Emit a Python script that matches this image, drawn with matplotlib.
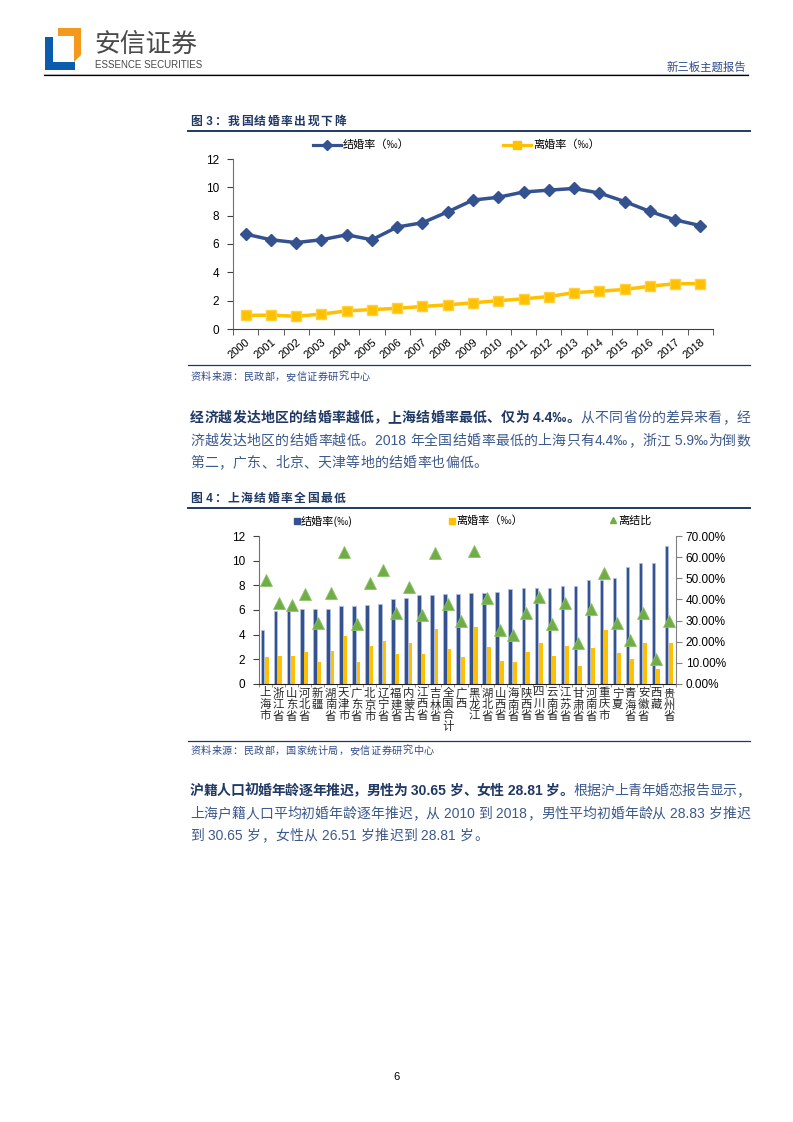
import matplotlib
matplotlib.use('Agg')
import matplotlib.pyplot as plt
import numpy as np
from matplotlib.patches import Polygon
from matplotlib.ticker import FuncFormatter

plt.rcParams['font.family'] = ['Noto Sans CJK SC', 'DejaVu Sans']

# %% data: figure 3
years = [str(y) for y in range(2000, 2019)]
marriage_rate = [6.7, 6.3, 6.1, 6.3, 6.65, 6.3, 7.2, 7.5, 8.27, 9.1,
                 9.3, 9.67, 9.8, 9.92, 9.6, 9.0, 8.3, 7.7, 7.3]
divorce_rate = [0.96, 0.98, 0.90, 1.05, 1.28, 1.37, 1.46, 1.59, 1.71, 1.85,
                2.0, 2.13, 2.29, 2.57, 2.67, 2.79, 3.02, 3.2, 3.2]

# %% data: figure 4
provinces = ['上海市', '浙江省', '山东省', '河北省', '新疆', '湖南省', '天津市', '广东省',
             '北京市', '辽宁省', '福建省', '内蒙古', '江西省', '吉林省', '全国合计', '广西',
             '黑龙江', '湖北省', '山西省', '海南省', '陕西省', '四川省', '云南省', '江苏省',
             '甘肃省', '河南省', '重庆市', '宁夏', '青海省', '安徽省', '西藏', '贵州省']
prov_marriage = [4.4, 5.9, 6.0, 6.1, 6.1, 6.1, 6.3, 6.3, 6.4, 6.5, 6.9, 7.0, 7.2, 7.2,
                 7.3, 7.3, 7.4, 7.4, 7.5, 7.7, 7.8, 7.8, 7.8, 7.95, 7.95, 8.4, 8.4,
                 8.6, 9.5, 9.8, 9.85, 11.2]
prov_divorce = [2.2, 2.3, 2.3, 2.6, 1.8, 2.7, 3.9, 1.8, 3.1, 3.5, 2.4, 3.3, 2.4, 4.5,
                2.8, 2.2, 4.6, 3.0, 1.9, 1.8, 2.6, 3.3, 2.3, 3.1, 1.5, 2.9, 4.4,
                2.5, 2.0, 3.3, 1.2, 3.3]
prov_ratio = [49, 38.5, 37.5, 42.5, 29, 43, 62.5, 28.5, 48, 54, 33.5, 46, 32.5, 62,
              38, 30, 63, 40.5, 25.5, 23, 33.5, 41, 28.5, 38.5, 19.5, 35.5, 52.5,
              29, 21, 33.5, 12, 30]

W, H = 793, 1122
NAVY = '#1f3864'
BODY = '#3d5a8c'
BLUE = '#34528f'
GOLD = '#ffc000'
GREEN = '#70ad47'
LATIN = ['Liberation Sans', 'Noto Sans CJK SC']
CJK = ['Noto Sans CJK SC', 'DejaVu Sans']

fig = plt.figure(figsize=(W / 100, H / 100), dpi=100)
page = fig.add_axes([0, 0, 1, 1], zorder=0)
page.set_xlim(0, W)
page.set_ylim(H, 0)
page.axis('off')
renderer = fig.canvas.get_renderer()


def split_tokens(s):
    out, buf = [], ''
    for ch in s:
        if ord(ch) < 0x2000 or ch == '‰':
            buf += ch
        else:
            if buf:
                out.append(buf)
                buf = ''
            out.append(ch)
    if buf:
        out.append(buf)
    return out


def put_line(x0, y, parts, x1=None, gap=0.0):
    # place text token by token so that a line can be justified
    items = []
    for s, kw in parts:
        for tok in split_tokens(s):
            fam = LATIN if ord(tok[0]) < 0x2000 else CJK
            t = page.text(x0, y, tok, va='baseline', ha='left', family=fam, **kw)
            items.append((t, t.get_window_extent(renderer).width))
    total = sum(w for _, w in items)
    if x1 is not None and len(items) > 1:
        gap = (x1 - x0 - total) / (len(items) - 1)
    x = x0
    for t, w in items:
        t.set_x(x)
        x += w + gap


# %% header
page.add_patch(Polygon([(45, 37), (53, 37), (53, 62), (75, 62), (75, 70), (45, 70)],
                       closed=True, color='#0b5cad', lw=0))
page.add_patch(Polygon([(58, 28), (81, 28), (81, 55), (74, 62), (74, 36), (58, 36)],
                       closed=True, color='#f39a1e', lw=0))
page.text(94, 45, '安信证券', fontsize=18.5, color='#4a4a4a', va='center', ha='left', family=CJK)
page.text(95, 65, 'ESSENCE SECURITIES', fontsize=7, color='#4a4a4a', va='center', ha='left',
          family=LATIN)
page.text(746, 67, '新三板主题报告', fontsize=8.2, color='#2f4a8a', va='center', ha='right', family=CJK)
page.plot([44, 748], [73.5, 73.5], color='#c8c8c8', lw=0.8)
page.plot([44, 748], [75, 75], color='black', lw=0.9)

# %% figure 3 frame
bold_title = dict(fontsize=8.5, color=NAVY, weight='bold')
put_line(190, 125, [('图 3：我国结婚率出现下降', bold_title)], gap=1.5)
page.plot([188, 750], [131, 131], color=NAVY, lw=1.4)
page.plot([188, 750], [365, 365], color=NAVY, lw=0.9)
put_line(190, 380, [('资料来源：民政部，安信证券研究中心',
                     dict(fontsize=7.3, color='#2f4a8a', style='italic'))], gap=0.5)

# legend of figure 3
page.plot([313, 341], [145, 145], color=BLUE, lw=2.3)
page.plot([327], [145], marker='D', color=BLUE, ms=5)
page.text(343, 145, '结婚率（‰）', fontsize=8, va='center', ha='left', family=CJK)
page.plot([503, 531], [145, 145], color=GOLD, lw=2.3)
page.plot([517], [145], marker='s', color=GOLD, ms=5.5)
page.text(533, 145, '离婚率（‰）', fontsize=8, va='center', ha='left', family=CJK)

ax1 = fig.add_axes([233 / W, 1 - 329 / H, 480 / W, 170 / H], zorder=2)
x1 = np.arange(len(years))
ax1.plot(x1, marriage_rate, color=BLUE, lw=2.5, marker='D', ms=6, zorder=3)
ax1.plot(x1, divorce_rate, color=GOLD, lw=2.5, marker='s', ms=7, mec='#ffd040', zorder=3)
ax1.set_xlim(-0.5, len(years) - 0.5)
ax1.set_ylim(0, 12)
ax1.set_yticks(range(0, 13, 2))
ax1.set_xticks(x1)
ax1.set_xticklabels(years, rotation=40, ha='right', rotation_mode='anchor', family=LATIN, fontsize=8)
ax1.set_xticks(np.arange(-0.5, len(years), 1), minor=True)
ax1.tick_params(axis='x', which='major', length=0, pad=6)
ax1.tick_params(axis='x', which='minor', length=4, direction='out', color='#404040')
ax1.tick_params(axis='y', length=4, direction='out', color='#404040', labelsize=8.5, pad=6)
for lab in ax1.get_yticklabels():
    lab.set_family(LATIN)
for s in ['top', 'right']:
    ax1.spines[s].set_visible(False)
ax1.spines['left'].set_color('#707070')
ax1.spines['bottom'].set_color('#404040')
ax1.patch.set_alpha(0)

# %% paragraph 1
bold_p = dict(fontsize=10, color=NAVY, weight='bold')
body_p = dict(fontsize=10, color=BODY)
put_line(190, 422, [('经济越发达地区的结婚率越低，上海结婚率最低、仅为 4.4‰。', bold_p),
                    ('从不同省份的差异来看，经', body_p)], x1=750)
put_line(190, 445, [('济越发达地区的结婚率越低。2018 年全国结婚率最低的上海只有4.4‰，浙江 5.9‰为倒数',
                     body_p)], x1=750)
put_line(190, 467, [('第二，广东、北京、天津等地的结婚率也偏低。', body_p)], gap=0.3)

# %% figure 4 frame
put_line(190, 502, [('图 4：上海结婚率全国最低', bold_title)], gap=1.5)
page.plot([188, 750], [508, 508], color=NAVY, lw=1.4)
page.plot([188, 750], [741, 741], color=NAVY, lw=0.9)
put_line(190, 754, [('资料来源：民政部，国家统计局，安信证券研究中心',
                     dict(fontsize=7.3, color='#2f4a8a', style='italic'))], gap=0.5)

# legend of figure 4
page.plot([297], [521], marker='s', color=BLUE, ms=4)
page.text(301, 521, '结婚率(‰)', fontsize=8, va='center', ha='left', family=CJK)
page.plot([452], [521], marker='s', color=GOLD, ms=4)
page.text(456, 521, '离婚率（‰）', fontsize=8, va='center', ha='left', family=CJK)
page.plot([613], [520], marker='^', color=GREEN, ms=5)
page.text(618, 521, '离结比', fontsize=8, va='center', ha='left', family=CJK)

ax2 = fig.add_axes([259 / W, 1 - 684 / H, 417 / W, 148 / H], zorder=2)
x2 = np.arange(len(provinces))
ax2.bar(x2 - 0.22, prov_marriage, width=0.27, color=BLUE, edgecolor='#b4c2e0', lw=0.5, zorder=2)
ax2.bar(x2 + 0.13, prov_divorce, width=0.28, color=GOLD, lw=0, zorder=2)
ax2.set_xlim(-0.5, len(provinces) - 0.5)
ax2.set_ylim(0, 12)
ax2.set_yticks(range(0, 13, 2))
ax2.set_xticks(x2)
ax2.set_xticklabels(['\n'.join(p) for p in provinces], fontsize=8.2, va='top',
                    linespacing=1.07, family=CJK, color='#262626')
ax2.set_xticks(np.arange(-0.5, len(provinces), 1), minor=True)
ax2.tick_params(axis='x', which='major', length=0, pad=3)
ax2.tick_params(axis='x', which='minor', length=2.5, direction='out', color='#808080')
ax2.tick_params(axis='y', length=4, direction='out', color='#404040', labelsize=8.5, pad=6)
for lab in ax2.get_yticklabels():
    lab.set_family(LATIN)
ax2.spines['top'].set_visible(False)
ax2.spines['right'].set_visible(False)
ax2.spines['left'].set_color('#707070')
ax2.spines['bottom'].set_color('#202020')
ax2.patch.set_alpha(0)

ax3 = ax2.twinx()
ax3.plot(x2, prov_ratio, linestyle='none', marker='^', color=GREEN, mec='#8cc46a',
         mew=0.6, ms=8.5, zorder=4)
ax3.set_ylim(0, 70)
ax3.set_yticks(range(0, 71, 10))
ax3.yaxis.set_major_formatter(FuncFormatter(lambda v, p: f'{v:.2f}%'))
ax3.tick_params(axis='y', length=4, direction='out', color='#808080', labelsize=8.5, pad=3)
for lab in ax3.get_yticklabels():
    lab.set_family(LATIN)
for s in ['top', 'left', 'bottom']:
    ax3.spines[s].set_visible(False)
ax3.spines['right'].set_color('#808080')

# %% paragraph 2
put_line(190, 795, [('沪籍人口初婚年龄逐年推迟，男性为 30.65 岁、女性 28.81 岁。', bold_p),
                    ('根据沪上青年婚恋报告显示，', body_p)], x1=750)
put_line(190, 818, [('上海户籍人口平均初婚年龄逐年推迟，从 2010 到 2018，男性平均初婚年龄从 28.83 岁推迟',
                     body_p)], x1=750)
put_line(190, 840, [('到 30.65 岁，女性从 26.51 岁推迟到 28.81 岁。', body_p)], gap=0.3)

page.text(396.5, 1077, '6', fontsize=8, ha='center', va='center', family=LATIN)

fig.savefig('out.png', dpi=100)
